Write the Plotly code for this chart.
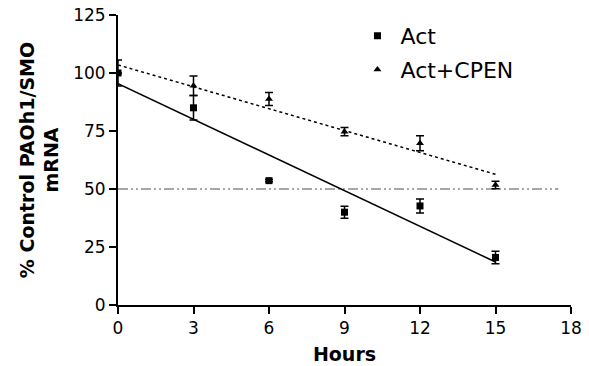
import numpy as np
import plotly.graph_objects as go

hours = [0, 3, 6, 9, 12, 15]
act = [100, 85, 53.6, 40, 42.7, 20.5]
act_err = [0, 5.3, 0.5, 2.6, 3.0, 2.7]
cpen = [100, 94.5, 88.8, 74.7, 69.7, 51.7]
cpen_err = [5.6, 4.2, 2.8, 1.8, 3.2, 1.6]
half_line_x = [0, 17.5]
half_line_y = [50, 50]

FONT = "DejaVu Sans"

# linear regression fits from the data
fit_x = [hours[0], hours[-1]]
p_act = np.polyfit(hours, act, 1)
p_cpen = np.polyfit(hours, cpen, 1)
fit_act = list(np.polyval(p_act, fit_x))
fit_cpen = list(np.polyval(p_cpen, fit_x))

fig = go.Figure()

fig.add_trace(go.Scatter(x=half_line_x, y=half_line_y, mode="lines",
                         line=dict(color="#8a8a8a", width=1.3, dash="10px,3px,2px,3px,2px,3px"),
                         showlegend=False, hoverinfo="skip"))
fig.add_trace(go.Scatter(x=fit_x, y=fit_cpen, mode="lines",
                         line=dict(color="black", width=1.5, dash="dot"),
                         showlegend=False, hoverinfo="skip"))
fig.add_trace(go.Scatter(x=fit_x, y=fit_act, mode="lines",
                         line=dict(color="black", width=1.5),
                         showlegend=False, hoverinfo="skip"))

fig.add_trace(go.Scatter(x=hours, y=cpen, mode="markers", name="Act+CPEN",
                         legendgroup="b", legendrank=2,
                         marker=dict(symbol="triangle-up", size=7, color="black"),
                         error_y=dict(type="data", array=cpen_err, visible=True,
                                      color="black", thickness=1.5, width=4)))
fig.add_trace(go.Scatter(x=hours, y=act, mode="markers", name="Act",
                         legendgroup="a", legendrank=1,
                         marker=dict(symbol="square", size=7, color="black"),
                         error_y=dict(type="data", array=act_err, visible=True,
                                      color="black", thickness=1.5, width=4)))

axis_common = dict(showline=True, linecolor="black", linewidth=2, ticks="outside",
                   ticklen=7, tickwidth=2, tickcolor="black", showgrid=False,
                   zeroline=False, automargin=False,
                   tickfont=dict(family=FONT, size=17, color="black"))

fig.update_xaxes(range=[0, 18], tick0=0, dtick=3,
                 title=dict(text="<b>Hours</b>", standoff=10,
                            font=dict(family=FONT, size=19, color="black")),
                 **axis_common)
fig.update_yaxes(range=[0, 125], tick0=0, dtick=25,
                 title=dict(text="<b>% Control PAOh1/SMO<br>mRNA</b>", standoff=9,
                            font=dict(family=FONT, size=19, color="black")),
                 **axis_common)

fig.update_layout(
    width=589, height=366,
    margin=dict(l=118, r=18, t=15, b=61, autoexpand=False),
    plot_bgcolor="white", paper_bgcolor="white",
    legend=dict(x=0.522, y=1.0, xanchor="left", yanchor="top",
                font=dict(family=FONT, size=22, color="black"),
                bgcolor="rgba(0,0,0,0)", tracegroupgap=2, itemwidth=36),
)

fig.write_html("out.html", config={"displayModeBar": False},
               post_script="document.body.style.margin='0';document.body.style.overflow='hidden';")
